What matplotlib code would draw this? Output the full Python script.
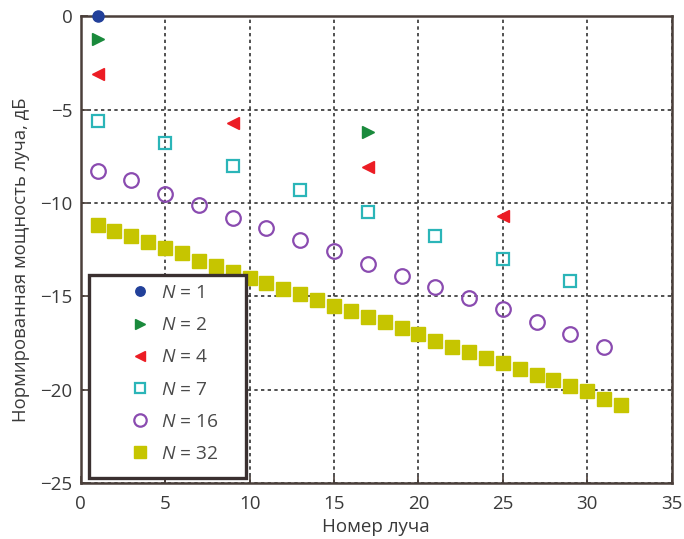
import matplotlib
matplotlib.use('Agg')
import matplotlib.pyplot as plt
from matplotlib.patches import Rectangle

plt.rcParams['font.family'] = ['Open Sans', 'DejaVu Sans']
plt.rcParams['mathtext.fontset'] = 'custom'
plt.rcParams['mathtext.it'] = 'Open Sans:italic'
plt.rcParams['mathtext.rm'] = 'Open Sans'

# Data
x_n1 = [1]
y_n1 = [0.0]

x_n2 = [1, 17]
y_n2 = [-1.2, -6.2]

x_n4 = [1, 9, 17, 25]
y_n4 = [-3.1, -5.7, -8.1, -10.7]

x_n7 = [1, 5, 9, 13, 17, 21, 25, 29]
y_n7 = [-5.6, -6.8, -8.0, -9.3, -10.5, -11.8, -13.0, -14.2]

x_n16 = [1, 3, 5, 7, 9, 11, 13, 15, 17, 19, 21, 23, 25, 27, 29, 31]
y_n16 = [-8.3, -8.8, -9.5, -10.1, -10.8, -11.35, -12.0, -12.6,
         -13.3, -13.9, -14.5, -15.1, -15.7, -16.4, -17.0, -17.7]

x_n32 = list(range(1, 33))
y_n32 = [-11.2, -11.5, -11.8, -12.1, -12.4, -12.7, -13.1, -13.4,
         -13.7, -14.0, -14.3, -14.6, -14.9, -15.2, -15.5, -15.8,
         -16.1, -16.4, -16.7, -17.0, -17.4, -17.7, -18.0, -18.3,
         -18.6, -18.9, -19.2, -19.5, -19.8, -20.1, -20.5, -20.8]

x_ticks = [0, 5, 10, 15, 20, 25, 30, 35]
y_ticks = [-25, -20, -15, -10, -5, 0]
y_ticklabels = ['\u221225', '\u221220', '\u221215', '\u221210', '\u22125', '0']

fig = plt.figure(figsize=(6.84, 5.39), dpi=100)
ax = fig.add_axes([0.118, 0.104, 0.864, 0.866])

ax.plot(x_n1, y_n1, 'o', color='#22409a', ms=8, label='$N$ = 1', clip_on=False, zorder=5)
ax.plot(x_n2, y_n2, '>', color='#1a8a3c', ms=9, label='$N$ = 2', clip_on=False, zorder=5)
ax.plot(x_n4, y_n4, '<', color='#ec1c24', ms=9, label='$N$ = 4', clip_on=False, zorder=5)
ax.plot(x_n7, y_n7, 's', color='#2bb5b8', mfc='none', mew=1.6, ms=8.5, label='$N$ = 7', clip_on=False, zorder=5)
ax.plot(x_n16, y_n16, 'o', color='#8a4bb0', mfc='none', mew=1.6, ms=10.5, label='$N$ = 16', clip_on=False, zorder=5)
ax.plot(x_n32, y_n32, 's', color='#c6c500', ms=9.5, label='$N$ = 32', clip_on=False, zorder=5)

ax.set_xlim(0, 35)
ax.set_ylim(-25, 0)
ax.set_xticks(x_ticks)
ax.set_yticks(y_ticks)
ax.set_yticklabels(y_ticklabels)
ax.grid(True, linestyle=(0, (2, 2)), color='#333333', linewidth=1.2)
ax.tick_params(direction='in', length=5, width=1.2, colors='#4a3f3a', labelsize=13.5,
               top=False, right=False)
ax.tick_params(axis='x', pad=9)
ax.tick_params(axis='y', pad=6)
ax.tick_params(labelcolor='#3a3a3a')
for s in ax.spines.values():
    s.set_color('#4a3f3a')
    s.set_linewidth(1.8)

ax.set_xlabel('Номер луча', fontsize=13.5, color='#3a3a3a', labelpad=3)
ax.set_ylabel('Нормированная мощность луча, дБ', fontsize=13.3, color='#3a3a3a')
ax.yaxis.set_label_coords(-0.086, 0.478)

# legend box (frame drawn separately so it can be wider than the entries)
box = Rectangle((0.0135, 0.011), 0.266, 0.434, transform=ax.transAxes,
                facecolor='white', edgecolor='#3a3030', linewidth=2.4, zorder=8)
ax.add_patch(box)
leg = ax.legend(loc='upper left', bbox_to_anchor=(0.081, 0.426), fontsize=13.8,
                frameon=False, labelspacing=0.74, borderpad=0, handletextpad=0.55,
                handlelength=1.15, markerscale=0.85, borderaxespad=0)
leg.set_zorder(9)
for t in leg.get_texts():
    t.set_color('#4a4a4a')

fig.savefig('out.png', dpi=100)
